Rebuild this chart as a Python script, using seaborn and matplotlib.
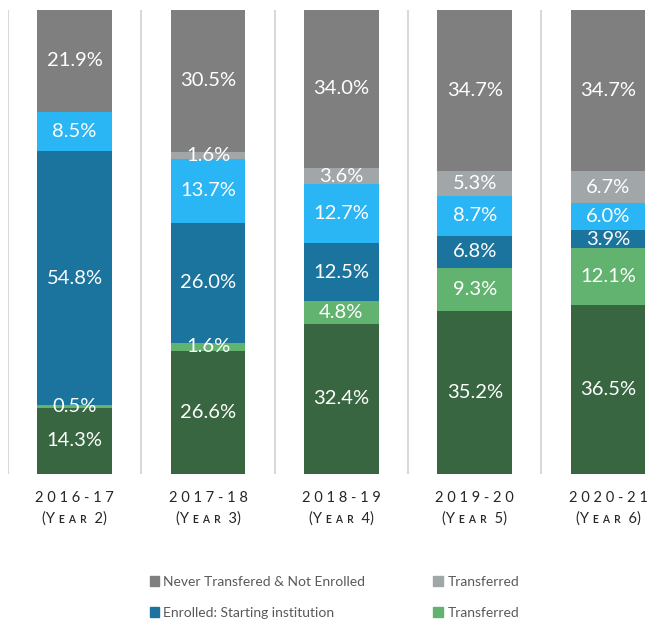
import pandas as pd
import seaborn as sns
import matplotlib.pyplot as plt
from matplotlib.patches import Patch

# values (percent of cohort)
years = ["2016-17", "2017-18", "2018-19", "2019-20", "2020-21"]
year_no = ["2", "3", "4", "5", "6"]
completed = [14.3, 26.6, 32.4, 35.2, 36.5]
transferred_grad = [0.5, 1.6, 4.8, 9.3, 12.1]
enrolled_start = [54.8, 26.0, 12.5, 6.8, 3.9]
enrolled_other = [8.5, 13.7, 12.7, 8.7, 6.0]
transferred = [0.0, 1.6, 3.6, 5.3, 6.7]
never = [21.9, 30.5, 34.0, 34.7, 34.7]

series = [
    ("completed", completed, "#386641"),
    ("transferred_grad", transferred_grad, "#62b370"),
    ("enrolled_start", enrolled_start, "#1b749d"),
    ("enrolled_other", enrolled_other, "#2ab5f4"),
    ("transferred", transferred, "#a1a6a9"),
    ("never", never, "#7f7f7f"),
]

df = pd.DataFrame({name: vals for name, vals, _ in series})
df["year"] = years
cum = df[[s[0] for s in series]].cumsum(axis=1)
cum["year"] = years

sns.set_style("white")
plt.rcParams["font.family"] = ["Lato", "DejaVu Sans"]

fig = plt.figure(figsize=(6.68, 6.23), dpi=100)
ax = fig.add_axes([8 / 668, 149 / 623, 666.7 / 668, 464 / 623])

# stacked bars: draw cumulative totals from the top layer down
for name, vals, color in reversed(series):
    sns.barplot(data=cum, x="year", y=name, color=color, width=0.56,
                saturation=1, ax=ax, linewidth=0)

# segment labels
for i in range(len(years)):
    base = 0
    for name, vals, color in series:
        v = vals[i]
        if v > 0:
            ax.text(i, base + v / 2, f"{v:.1f}%", ha="center", va="center",
                    color="white", fontsize=14.5)
        base += v

for xg in [-0.5, 0.5, 1.5, 2.5, 3.5, 4.5]:
    ax.axvline(xg, color="#d9d9d9", lw=1.5, zorder=0)

ax.set_xlim(-0.5, 4.5)
ax.set_ylim(0, 100)
ax.set_yticks([])
ax.set_xlabel("")
ax.set_ylabel("")
sns.despine(ax=ax, left=True, bottom=True)
labels = [" ".join(y) + "\n(Y ᴇ ᴀ ʀ  " + n + ")" for y, n in zip(years, year_no)]
ax.set_xticks(range(len(years)))
ax.set_xticklabels(labels, fontsize=10.5, color="#262626", linespacing=1.55)
ax.tick_params(axis="x", length=0, pad=12)

handles = [
    Patch(color="#7f7f7f", label="Never Transfered & Not Enrolled"),
    Patch(color="#1b749d", label="Enrolled: Starting institution"),
    Patch(color="#a1a6a9", label="Transferred"),
    Patch(color="#62b370", label="Transferred"),
]
fig.legend(handles=handles, ncol=2, loc="upper left",
           bbox_to_anchor=(137 / 668, 1 - 563 / 623), frameon=False,
           fontsize=10, labelcolor="#595959", handlelength=0.7,
           handleheight=0.7, handletextpad=0.3, columnspacing=4.9,
           labelspacing=1.4)

fig.savefig("out.png", dpi=100)
